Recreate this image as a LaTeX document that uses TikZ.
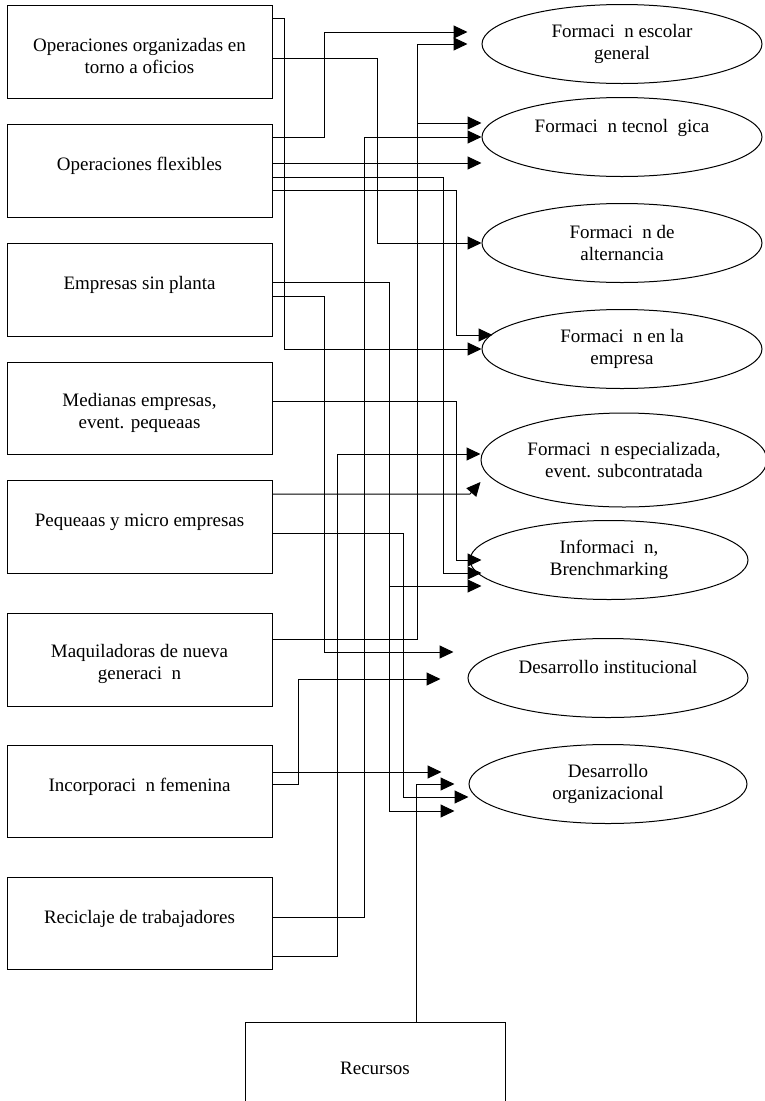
\documentclass[tikz,border=0pt]{standalone}
\usepackage{fontspec}
\setmainfont{Liberation Serif}
\usetikzlibrary{shapes.geometric,arrows.meta}
\newcommand{\ogap}{\hspace{0.5em}}
\begin{document}
\begin{tikzpicture}[x=1pt,y=-1pt,>={Triangle[length=14pt,width=13pt]}]

% --- Estilos ---
\tikzset{
    caja/.style={draw, line width=1pt, minimum width=265pt, minimum height=93pt, inner sep=0pt, align=center, font=\fontsize{19}{22}\selectfont},
    unalinea/.style={text depth=13pt},
    doslineas/.style={text height=45pt},
    meta/.style={draw, ellipse, line width=1pt, minimum width=280pt, minimum height=79pt, inner sep=0pt, align=center, font=\fontsize{19}{22}\selectfont},
    conn/.style={->, line width=1pt}
}

    \useasboundingbox (0,0) rectangle (765,1101);

    % Cajas de la izquierda
    \node[caja, doslineas] (ofi) at (139.5, 51.5) {Operaciones organizadas en\\torno a oficios};
    \node[caja, unalinea] (flex) at (139.5, 170.5) {Operaciones flexibles};
    \node[caja, unalinea] (sinpl) at (139.5, 289.5) {Empresas sin planta};
    \node[caja, doslineas, minimum height=92pt] (medi) at (139.5, 408) {Medianas empresas,\\event. pequeaas};
    \node[caja, unalinea] (peq) at (139.5, 526.5) {Pequeaas y micro empresas};
    \node[caja, doslineas] (maq) at (139.5, 659.5) {Maquiladoras de nueva\\generaci\ogap n};
    \node[caja, unalinea, minimum height=92pt] (fem) at (139.5, 791) {Incorporaci\ogap n femenina};
    \node[caja, unalinea, minimum height=92pt] (rec) at (139.5, 923) {Reciclaje de trabajadores};

    % Recursos (abajo, cortada por el borde)
    \node[caja, minimum width=260pt, minimum height=92pt] (recur) at (375, 1068) {Recursos};

    % Elipses de la derecha
    \node[meta] (esc) at (622, 44) {Formaci\ogap n escolar\\general};
    \node[meta] (tec) at (622, 137) {Formaci\ogap n tecnol\ogap gica\\\mbox{}};
    \node[meta] (alt) at (622, 243) {Formaci\ogap n de\\alternancia};
    \node[meta] (emp) at (622, 349) {Formaci\ogap n en la\\empresa};
    \node[meta, minimum width=286pt, minimum height=94pt] (esp) at (624, 460) {Formaci\ogap n especializada,\\event. subcontratada};
    \node[meta, minimum width=278pt] (inf) at (609, 560) {Informaci\ogap n,\\Brenchmarking};
    \node[meta] (ins) at (608, 678) {Desarrollo institucional\\\mbox{}};
    \node[meta, minimum width=278pt] (org) at (608, 784) {Desarrollo\\organizacional};

    % Operaciones organizadas en torno a oficios
    \draw[conn] (ofi.east |- 0,18) -| (284,349) -- (emp.west |- 0,349);
    \draw[conn] (ofi.east |- 0,58) -| (377,243) -- (alt.west |- 0,243);

    % Operaciones flexibles
    \draw[conn] (flex.east |- 0,137) -| (324,32) -- ([xshift=-14pt]esc.west |- 0,32);
    \draw[conn] (flex.east |- 0,163) -- (tec.west |- 0,163);
    \draw[conn] (flex.east |- 0,177) -| (443,573) -- ([xshift=12pt]inf.west |- 0,573);
    \draw[conn] (flex.east |- 0,190) -| (456,335) -- ([xshift=11pt]emp.west |- 0,335);

    % Empresas sin planta
    \draw[conn] (sinpl.east |- 0,282) -| (389,811) -- ([xshift=-14pt]org.west |- 0,811);
    \draw[conn] (389,586) -- ([xshift=12pt]inf.west |- 0,586);
    \draw[conn] (sinpl.east |- 0,296) -| (324,652) -- ([xshift=-14pt]ins.west |- 0,652);

    % Medianas empresas
    \draw[conn] (medi.east |- 0,401) -| (456,560) -- ([xshift=12pt]inf.west |- 0,560);

    % Pequeaas y micro empresas
    \draw[conn] (peq.east |- 0,494) -- (470,494) -- (esp.west |- 0,482);
    \draw[conn] (peq.east |- 0,533) -| (403,797) -- (org.west |- 0,797);

    % Maquiladoras
    \draw[conn] (maq.east |- 0,639) -| (417,44) -- ([xshift=-14pt]esc.west |- 0,44);
    \draw[conn] (417,123) -- (tec.west |- 0,123);

    % Incorporacion femenina
    \draw[conn] (fem.east |- 0,772) -- ([xshift=-27pt]org.west |- 0,772);
    \draw[conn] (fem.east |- 0,784) -| (298,679) -- ([xshift=-27pt]ins.west |- 0,679);

    % Reciclaje de trabajadores
    \draw[conn] (rec.east |- 0,917) -| (364,137) -- (tec.west |- 0,137);
    \draw[conn] (rec.east |- 0,956) -| (337,454) -- (esp.west |- 0,454);

    % Recursos
    \draw[conn] (recur.north -| 416,0) |- ([xshift=-14pt]org.west |- 0,784);

\end{tikzpicture}
\end{document}
